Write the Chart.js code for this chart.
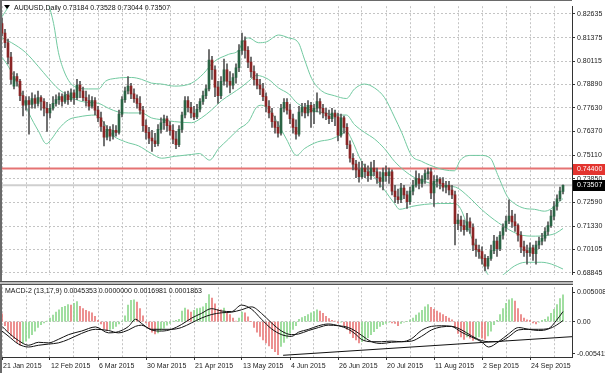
<!DOCTYPE html>
<html>
<head>
<meta charset="utf-8">
<script src="https://cdn.jsdelivr.net/npm/chart.js@4.4.0/dist/chart.umd.min.js"></script>
<style>
  html, body { margin: 0; padding: 0; background: #fff; }
  #wrap { position: relative; width: 605px; height: 373px; overflow: hidden; background: #fff; }
  #priceChart { position: absolute; left: 0; top: 0; }
  #macdChart { position: absolute; left: 0; top: 281px; }
</style>
</head>
<body>
<div id="wrap">
  <canvas id="priceChart" width="605" height="281"></canvas>
  <canvas id="macdChart" width="605" height="92"></canvas>
</div>
<script>
const dateLabels = ['21 Jan 2015', '12 Feb 2015', '6 Mar 2015', '30 Mar 2015', '21 Apr 2015', '13 May 2015',
  '4 Jun 2015', '26 Jun 2015', '20 Jul 2015', '11 Aug 2015', '2 Sep 2015', '24 Sep 2015'];

const opens = [
  .8212, .8161, .8110, .8033, .7879, .7930, .7905, .7828, .7777, .7802, .7782, .7812, .7787, .7818, .7797, .7761,
  .7736, .7761, .7787, .7807, .7823, .7797, .7833, .7807, .7843, .7818, .7884, .7853, .7818, .7802, .7772, .7802,
  .7751, .7710, .7664, .7607, .7649, .7613, .7643, .7633, .7730, .7807, .7853, .7879, .7838, .7812, .7787, .7751,
  .7669, .7633, .7602, .7587, .7572, .7649, .7684, .7705, .7669, .7643, .7597, .7567, .7649, .7725, .7802, .7766,
  .7736, .7715, .7756, .7797, .7828, .7864, .8018, .7966, .7874, .7828, .7905, .7966, .7905, .7884, .7925, .7977,
  .8069, .8120, .8069, .8007, .7956, .7915, .7884, .7864, .7823, .7772, .7736, .7690, .7659, .7628, .7761, .7792,
  .7751, .7705, .7659, .7623, .7741, .7766, .7736, .7777, .7741, .7761, .7797, .7761, .7736, .7720, .7705, .7736,
  .7715, .7618, .7710, .7659, .7567, .7495, .7464, .7433, .7397, .7443, .7423, .7402, .7443, .7423, .7392, .7372,
  .7418, .7402, .7423, .7320, .7290, .7274, .7336, .7300, .7264, .7320, .7351, .7387, .7361, .7382, .7413, .7423,
  .7310, .7372, .7382, .7361, .7341, .7351, .7326, .7300, .7146, .7166, .7136, .7115, .7156, .7126, .7033, .7008,
  .6998, .6962, .6920, .6962, .7003, .7054, .7013, .7085, .7126, .7161, .7187, .7156, .7136, .7085, .7023, .7003,
  .6992, .7018, .6987, .7033, .7054, .7069, .7105, .7136, .7187, .7238, .7279, .73184
];
const highs = [
  .8243, .8182, .8130, .8059, .7956, .7946, .7915, .7853, .7823, .7823, .7843, .7833, .7853, .7828, .7812, .7792,
  .7782, .7823, .7833, .7843, .7838, .7848, .7853, .7864, .7859, .7915, .7905, .7874, .7853, .7833, .7823, .7818,
  .7772, .7741, .7690, .7669, .7664, .7674, .7669, .7751, .7823, .7874, .7930, .7894, .7864, .7833, .7823, .7772,
  .7700, .7659, .7643, .7628, .7674, .7710, .7725, .7720, .7690, .7674, .7638, .7669, .7741, .7823, .7823, .7792,
  .7772, .7782, .7812, .7853, .7884, .8074, .8038, .7987, .7905, .7930, .8023, .7997, .7956, .7946, .7997, .8100,
  .8161, .8141, .8089, .8033, .7987, .7946, .7915, .7894, .7843, .7802, .7761, .7720, .7690, .7782, .7812, .7812,
  .7782, .7730, .7700, .7772, .7787, .7787, .7802, .7792, .7782, .7843, .7812, .7782, .7761, .7751, .7761, .7751,
  .7736, .7730, .7720, .7679, .7587, .7520, .7484, .7474, .7479, .7464, .7454, .7474, .7484, .7443, .7423, .7443,
  .7454, .7443, .7433, .7351, .7331, .7361, .7351, .7320, .7341, .7377, .7428, .7413, .7402, .7433, .7443, .7443,
  .7402, .7402, .7392, .7392, .7372, .7372, .7351, .7320, .7197, .7187, .7166, .7202, .7177, .7146, .7064, .7033,
  .7023, .6982, .6972, .7033, .7085, .7075, .7105, .7146, .7187, .7274, .7218, .7197, .7146, .7105, .7054, .7033,
  .7044, .7033, .7054, .7075, .7095, .7126, .7156, .7218, .7264, .7300, .7341, .73528
];
const lows = [
  .8146, .8084, .7997, .7890, .7864, .7879, .7802, .7720, .7751, .7623, .7761, .7761, .7772, .7751, .7720, .7638,
  .7710, .7751, .7772, .7782, .7772, .7787, .7782, .7797, .7782, .7807, .7818, .7802, .7772, .7751, .7761, .7725,
  .7690, .7638, .7561, .7592, .7587, .7597, .7613, .7623, .7715, .7792, .7838, .7812, .7792, .7761, .7730, .7638,
  .7597, .7572, .7531, .7556, .7561, .7628, .7649, .7638, .7618, .7572, .7546, .7556, .7633, .7710, .7741, .7710,
  .7700, .7705, .7741, .7782, .7812, .7853, .7915, .7823, .7787, .7812, .7884, .7874, .7843, .7864, .7894, .7956,
  .8048, .8028, .7977, .7925, .7884, .7864, .7833, .7802, .7741, .7710, .7659, .7628, .7607, .7618, .7741, .7730,
  .7679, .7628, .7597, .7613, .7720, .7710, .7720, .7659, .7679, .7741, .7730, .7710, .7700, .7679, .7690, .7669,
  .7587, .7607, .7628, .7546, .7474, .7433, .7392, .7367, .7387, .7392, .7372, .7382, .7402, .7361, .7341, .7326,
  .7372, .7361, .7300, .7259, .7254, .7259, .7279, .7228, .7249, .7300, .7341, .7331, .7341, .7361, .7382, .7279,
  .7238, .7341, .7331, .7320, .7310, .7300, .7279, .7033, .7115, .7105, .7085, .7105, .7095, .7003, .6972, .6962,
  .6931, .6895, .6905, .6951, .6987, .6972, .7003, .7064, .7105, .7146, .7126, .7105, .7054, .6992, .6972, .6931,
  .6972, .6951, .6931, .7013, .7033, .7054, .7085, .7126, .7166, .7218, .7269, .73044
];
const closes = [
  .8161, .8110, .8033, .7915, .7930, .7905, .7828, .7777, .7802, .7782, .7812, .7787, .7818, .7797, .7761, .7736,
  .7761, .7787, .7807, .7823, .7797, .7833, .7807, .7843, .7818, .7884, .7853, .7818, .7802, .7772, .7802, .7751,
  .7710, .7664, .7607, .7649, .7613, .7643, .7633, .7730, .7807, .7853, .7879, .7838, .7812, .7787, .7751, .7669,
  .7633, .7602, .7587, .7572, .7649, .7684, .7705, .7669, .7643, .7597, .7567, .7649, .7725, .7802, .7766, .7736,
  .7715, .7756, .7797, .7828, .7864, .8018, .7966, .7874, .7828, .7905, .7966, .7905, .7884, .7925, .7977, .8069,
  .8120, .8069, .8007, .7956, .7915, .7884, .7864, .7823, .7772, .7736, .7690, .7659, .7628, .7761, .7792, .7751,
  .7705, .7659, .7623, .7741, .7766, .7736, .7777, .7741, .7761, .7797, .7761, .7736, .7720, .7705, .7736, .7715,
  .7618, .7710, .7659, .7567, .7495, .7464, .7433, .7397, .7443, .7423, .7402, .7443, .7423, .7392, .7372, .7418,
  .7402, .7423, .7320, .7290, .7274, .7336, .7300, .7264, .7320, .7351, .7387, .7361, .7382, .7413, .7423, .7310,
  .7372, .7382, .7361, .7341, .7351, .7326, .7300, .7146, .7166, .7136, .7115, .7156, .7126, .7033, .7008, .6998,
  .6962, .6920, .6962, .7003, .7054, .7013, .7085, .7126, .7161, .7187, .7156, .7136, .7085, .7023, .7003, .6992,
  .7018, .6987, .7033, .7054, .7069, .7105, .7136, .7187, .7238, .7279, .7320, .73507
];

// Bandas de Bollinger: [barra, preço]
const bbUpper = [[0,0.8248],[2.2,0.8305],[5.5,0.8418],[10.5,0.8459],[13.8,0.8377],[15.5,0.8315],[17.2,0.8212],[18.8,0.8059],
  [20.5,0.7966],[22.8,0.7895],[25.5,0.7869],[28.8,0.7864],[32.2,0.7864],[34.5,0.7905],[37.8,0.7920],[43.2,0.7925],[46.5,0.7915],
  [49.8,0.7895],[53.2,0.7890],[57.5,0.7879],[63.2,0.7895],[67.2,0.7946],[70.5,0.8007],[75.5,0.8048],[78.8,0.8069],[80.5,0.8120],
  [82.2,0.8136],[85.5,0.8110],[88.2,0.8115],[92.2,0.8151],[95.5,0.8136],[98.8,0.8110],[100.8,0.8023],[103.2,0.7920],[106.5,0.7854],
  [110.8,0.7828],[114.8,0.7813],[117.5,0.7864],[120.8,0.7890],[124.2,0.7869],[127.5,0.7818],[130.8,0.7715],[133.2,0.7633],
  [136.5,0.7510],[139.8,0.7479],[142.5,0.7459],[147.5,0.7433],[150.8,0.7428],[152.8,0.7485],[156.2,0.7510],[159.5,0.7510],
  [162.8,0.7495],[165.2,0.7408],[168.5,0.7290],[170.8,0.7254],[174.2,0.7228],[177.5,0.7223],[180.8,0.7213],[182.8,0.7223],
  [184.8,0.7249],[187,0.7280]];
const bbMiddle = [[0,0.8136],[3.2,0.8110],[7.8,0.8059],[12.2,0.7982],[15.5,0.7920],[18.8,0.7864],[22.2,0.7828],[25.5,0.7802],
  [28.8,0.7792],[32.2,0.7787],[35.5,0.7761],[38.8,0.7741],[42.2,0.7736],[46.5,0.7736],[49.8,0.7710],[53.2,0.7700],[57.5,0.7690],
  [63.2,0.7684],[66.5,0.7710],[69.8,0.7751],[73.2,0.7802],[76.5,0.7838],[79.8,0.7874],[82.2,0.7905],[84.8,0.7936],[88.8,0.7915],
  [92.2,0.7869],[95.5,0.7838],[98.5,0.7787],[103.2,0.7751],[107.5,0.7736],[110.8,0.7725],[114.8,0.7725],[117.5,0.7674],
  [120.8,0.7633],[124.2,0.7597],[127.5,0.7546],[130.8,0.7479],[134.2,0.7428],[137.5,0.7392],[140.8,0.7372],[145.5,0.7351],
  [151.2,0.7341],[155.5,0.7290],[159.8,0.7223],[165.5,0.7151],[172.2,0.7090],[177.8,0.7080],[182.2,0.7085],[184.5,0.7095],
  [187,0.7121]];
const bbLower = [[0,0.8033],[2.2,0.7982],[5.5,0.7879],[8.8,0.7741],[12.2,0.7638],[14.8,0.7572],[16.5,0.7597],[18.8,0.7649],
  [22.2,0.7700],[25.5,0.7715],[31.2,0.7725],[33.2,0.7700],[36.5,0.7623],[41.2,0.7582],[45.5,0.7561],[49.8,0.7520],[53.2,0.7495],
  [57.5,0.7505],[63.2,0.7515],[65.8,0.7520],[69.2,0.7485],[72.2,0.7546],[75.5,0.7597],[78.8,0.7649],[82.2,0.7690],[84.8,0.7766],
  [86.5,0.7777],[89.2,0.7751],[92.2,0.7674],[94.8,0.7597],[98.2,0.7510],[100.8,0.7546],[105.2,0.7582],[109.8,0.7597],
  [113.2,0.7623],[114.8,0.7638],[116.5,0.7597],[119.8,0.7479],[124.2,0.7392],[127.5,0.7326],[130.8,0.7254],[132.5,0.7223],
  [136.5,0.7238],[140.8,0.7249],[146.2,0.7254],[150.8,0.7254],[152.8,0.7228],[156.2,0.7085],[159.5,0.6967],[161.8,0.6880],
  [164.5,0.6849],[167.5,0.6880],[170.8,0.6921],[174.5,0.6941],[179.8,0.6941],[183.2,0.6931],[187,0.6905]];

const priceTicks = [0.82635, 0.81375, 0.80115, 0.78890, 0.77630, 0.76370, 0.75110, 0.73850, 0.72590, 0.71330, 0.70105, 0.68845];
const levelPrice = 0.74400;

// MACD-2 (13,17,9)
const macdHist = [
  .0013, -.0007, -.0016, -.0024, -.0029, -.0035, -.0040, -.0037, -.0033, -.0028, -.0022, -.0016, -.0010, -.0005, -.0002, .0001,
  .0006, .0011, .0016, .0020, .0024, .0026, .0029, .0028, .0031, .0034, .0026, .0022, .0019, .0017, .0015, .0009,
  .0002, -.0004, -.0012, -.0015, -.0013, -.0012, -.0008, -.0004, .0001, .0010, .0028, .0036, .0037, .0033, .0022, .0010,
  -.0002, -.0010, -.0018, -.0021, -.0019, -.0015, -.0011, -.0006, -.0003, .0001, .0002, .0004, .0018, .0023, .0020, .0016,
  .0019, .0022, .0023, .0025, .0031, .0046, .0040, .0030, .0021, .0020, .0023, .0016, .0012, .0006, .0001, .0006,
  .0016, .0015, .0008, .0000, -.0010, -.0018, -.0025, -.0031, -.0036, -.0041, -.0046, -.0051, -.0056, -.0042, -.0035, -.0028,
  -.0020, -.0013, -.0007, .0004, .0007, .0009, .0012, .0015, .0017, .0020, .0018, .0014, .0009, .0005, .0002, .0001,
  -.0002, -.0001, -.0007, -.0013, -.0020, -.0027, -.0031, -.0036, -.0034, -.0031, -.0027, -.0022, -.0017, -.0012, -.0008, -.0005,
  -.0003, -.0001, -.0002, -.0003, -.0007, -.0003, -.0001, .0000, .0003, .0006, .0011, .0015, .0019, .0025, .0029, .0024,
  .0021, .0018, .0015, .0012, .0009, .0006, .0003, -.0010, -.0020, -.0026, -.0030, -.0026, -.0028, -.0032, -.0030, -.0026,
  -.0028, -.0030, -.0024, -.0016, -.0005, .0002, .0012, .0022, .0031, .0037, .0039, .0035, .0022, .0012, .0006, .0003,
  .0002, -.0002, -.0004, -.0001, .0002, .0004, .0008, .0014, .0021, .0029, .0039, .0045353
];
const macdFast = [[0,-0.0008],[2,-0.0018],[5.5,-0.0032],[8.8,-0.0040],[12.2,-0.0035],[15.5,-0.0036],[18.8,-0.0030],[22.2,-0.0022],
  [26.5,-0.0016],[31.2,-0.0009],[35.5,-0.0019],[38.8,-0.0017],[42.2,-0.0008],[44.5,0.0004],[46.5,-0.0003],[49.8,-0.0014],
  [53.2,-0.0016],[56.5,-0.0013],[59.8,-0.0005],[63.2,0.0006],[66.5,0.0014],[69.8,0.0022],[73.2,0.0018],[76.5,0.0017],
  [79.8,0.0028],[83.2,0.0021],[86.5,0.0004],[89.8,-0.0012],[93.2,-0.0022],[96.5,-0.0025],[98.8,-0.0018],[102.2,-0.0013],
  [105.5,-0.0007],[108.8,-0.0004],[112.2,-0.0007],[115.5,-0.0013],[117.8,-0.0021],[119.8,-0.0030],[123.2,-0.0034],
  [126.5,-0.0034],[129.8,-0.0033],[133.2,-0.0034],[136.5,-0.0029],[139.8,-0.0015],[143.2,-0.0008],[146.5,-0.0007],
  [149.8,-0.0008],[153.2,-0.0018],[156.5,-0.0026],[159.8,-0.0034],[162.2,-0.0043],[165.5,-0.0034],[168.8,-0.0021],
  [172.2,-0.0010],[175.5,-0.0013],[178.8,-0.0015],[182.2,-0.0012],[184.8,0.0002],[187,0.0016981]];
const macdSlow = [[0,-0.0016],[2,-0.0024],[5.5,-0.0038],[8.8,-0.0043],[12.2,-0.0040],[15.5,-0.0038],[18.8,-0.0036],[22.2,-0.0030],
  [26.5,-0.0020],[31.2,-0.0013],[35.5,-0.0015],[38.8,-0.0019],[42.2,-0.0014],[44.5,-0.0008],[46.5,-0.0006],[49.8,-0.0013],
  [53.2,-0.0013],[56.5,-0.0013],[59.8,-0.0010],[63.2,-0.0002],[66.5,0.0006],[69.8,0.0012],[73.2,0.0015],[76.5,0.0016],
  [79.8,0.0020],[83.2,0.0025],[86.5,0.0014],[89.8,-0.0002],[93.2,-0.0016],[96.5,-0.0022],[98.8,-0.0021],[102.2,-0.0015],
  [105.5,-0.0010],[108.8,-0.0006],[112.2,-0.0007],[115.5,-0.0010],[117.8,-0.0016],[119.8,-0.0023],[123.2,-0.0034],
  [126.5,-0.0037],[129.8,-0.0035],[133.2,-0.0034],[136.5,-0.0033],[139.8,-0.0025],[143.2,-0.0014],[146.5,-0.0009],
  [149.8,-0.0008],[153.2,-0.0014],[156.5,-0.0024],[159.8,-0.0032],[162.2,-0.0034],[165.5,-0.0034],[168.8,-0.0026],
  [172.2,-0.0014],[175.5,-0.0013],[178.8,-0.0013],[182.2,-0.0012],[184.8,-0.0006],[187,0.0001863]];
const macdTrend = [[93.7,-0.0057],[190,-0.00255]];
const macdTicks = [-0.005411, 0, 0.005008];

// --- layout / estilos ---
const FONT = "'Liberation Sans', Arial, sans-serif";
const GRID = '#c4c4c4';
const BULL = '#2b6445', BEAR = '#8a2525', WICK = '#555555';
const BAND = '#72c9a0';
const X_MIN = -1 / 3, X_MAX = 190;
const Y_MAX = 0.83045, Y_MIN = 0.68743;
const M_MAX = 0.00583, M_MIN = -0.00599;

const gridIdx = [];
for (let k = 0; k <= 184; k += 8) gridIdx.push(k);

const idx = closes.map((_, i) => i);
const lastClose = closes[closes.length - 1];
const pairs = arr => arr.map(p => ({ x: p[0], y: p[1] }));

// --- gráfico de preço ---
const pricePlugin = {
  id: 'priceDecor',
  afterDraw(chart) {
    const ctx = chart.ctx;
    const y = chart.scales.y;
    ctx.save();
    // bordas da janela
    ctx.fillStyle = '#6a6a6a';
    ctx.fillRect(0, 0, 2, chart.height);
    ctx.fillRect(0, 0, 572, 1);
    // título
    ctx.fillStyle = '#000';
    ctx.beginPath();
    ctx.moveTo(4, 5); ctx.lineTo(10, 5); ctx.lineTo(7, 9); ctx.closePath(); ctx.fill();
    ctx.font = '7px ' + FONT;
    ctx.textBaseline = 'middle';
    ctx.fillStyle = '#111';
    ctx.fillText('AUDUSD,Daily 0.73184 0.73528 0.73044 0.73507', 14, 8);
    // caixas de preço
    const box = (p, bg) => {
      const py = Math.round(y.getPixelForValue(p));
      ctx.fillStyle = bg;
      ctx.fillRect(573, py - 5, 32, 11);
      ctx.fillStyle = '#fff';
      ctx.fillText(p.toFixed(5), 577, py + 0.5);
    };
    box(levelPrice, '#e3342f');
    box(lastClose, '#000');
    ctx.restore();
  }
};

new Chart(document.getElementById('priceChart'), {
  type: 'bar',
  data: {
    datasets: [
      { type: 'line', data: [{ x: X_MIN, y: levelPrice }, { x: X_MAX, y: levelPrice }], borderColor: '#e57373',
        borderWidth: 2, pointRadius: 0, order: 10 },
      { type: 'line', data: [{ x: X_MIN, y: lastClose }, { x: X_MAX, y: lastClose }], borderColor: '#cfcfcf',
        borderWidth: 2, pointRadius: 0, order: 9 },
      { type: 'line', data: pairs(bbUpper), borderColor: BAND, borderWidth: 1, pointRadius: 0, cubicInterpolationMode: 'monotone', order: 5 },
      { type: 'line', data: pairs(bbMiddle), borderColor: BAND, borderWidth: 1, pointRadius: 0, cubicInterpolationMode: 'monotone', order: 5 },
      { type: 'line', data: pairs(bbLower), borderColor: BAND, borderWidth: 1, pointRadius: 0, cubicInterpolationMode: 'monotone', order: 5 },
      { type: 'bar', data: idx.map(i => ({ x: i, y: [lows[i], highs[i]] })), backgroundColor: WICK,
        barThickness: 1, grouped: false, order: 2 },
      { type: 'bar', data: idx.map(i => ({ x: i, y: [opens[i], closes[i]] })),
        backgroundColor: idx.map(i => closes[i] >= opens[i] ? BULL : BEAR),
        barThickness: 2, minBarLength: 1, grouped: false, order: 1 }
    ]
  },
  options: {
    responsive: false,
    animation: false,
    devicePixelRatio: 1,
    layout: { padding: { left: 1, top: 2, right: 0, bottom: 0 } },
    plugins: { legend: { display: false }, tooltip: { enabled: false } },
    scales: {
      x: {
        type: 'linear', min: X_MIN, max: X_MAX, offset: false,
        afterBuildTicks: s => { s.ticks = gridIdx.map(v => ({ value: v })); },
        grid: { color: GRID, drawTicks: false, offset: false, borderDash: [2, 2] },
        border: { display: false, dash: [2, 2] },
        ticks: { display: false },
        afterFit: s => { s.height = 0; }
      },
      y: {
        position: 'right', min: Y_MIN, max: Y_MAX,
        afterBuildTicks: s => { s.ticks = priceTicks.map(v => ({ value: v })); },
        grid: { color: GRID, tickLength: 3, tickColor: '#333', tickBorderDash: [], borderDash: [2, 2] },
        border: { display: true, color: '#333', dash: [2, 2] },
        ticks: { font: { family: FONT, size: 7 }, color: '#222', padding: 2, callback: v => v.toFixed(5) },
        afterFit: s => { s.width = 33; }
      }
    }
  },
  plugins: [pricePlugin]
});

// --- painel MACD ---
const macdPlugin = {
  id: 'macdDecor',
  afterDraw(chart) {
    const ctx = chart.ctx;
    const xs = chart.scales.x;
    ctx.save();
    ctx.fillStyle = '#6a6a6a';
    ctx.fillRect(0, 0, 2, chart.height);
    ctx.fillStyle = '#555';
    ctx.fillRect(0, 0, 573, 1);
    ctx.fillStyle = '#bdbdbd';
    ctx.fillRect(0, 1, 573, 2);
    ctx.fillStyle = '#555';
    ctx.fillRect(0, 3, 573, 1);
    ctx.font = '7px ' + FONT;
    ctx.textBaseline = 'middle';
    ctx.fillStyle = '#111';
    ctx.fillText('MACD-2 (13,17,9) 0.0045353 0.0000000 0.0016981 0.0001863', 5, 10);
    // datas no eixo (começam na própria marca, como no MT4)
    ctx.fillStyle = '#222';
    ctx.textAlign = 'left';
    dateLabels.forEach((d, k) => {
      ctx.fillText(d, Math.round(xs.getPixelForValue(k * 16)) + 1, xs.bottom - 7);
    });
    ctx.restore();
  }
};

new Chart(document.getElementById('macdChart'), {
  type: 'bar',
  data: {
    datasets: [
      { type: 'bar', data: idx.map(i => ({ x: i, y: macdHist[i] })),
        backgroundColor: idx.map(i => (i > 0 && macdHist[i] > macdHist[i - 1]) ? '#8ed88e' : '#e87a7a'),
        barThickness: 1, grouped: false, order: 3 },
      { type: 'line', data: pairs(macdFast), borderColor: '#111', borderWidth: 1, pointRadius: 0, cubicInterpolationMode: 'monotone', order: 1 },
      { type: 'line', data: pairs(macdSlow), borderColor: '#111', borderWidth: 1, pointRadius: 0, cubicInterpolationMode: 'monotone', order: 1 },
      { type: 'line', data: pairs(macdTrend), borderColor: '#111', borderWidth: 1, pointRadius: 0, order: 1 }
    ]
  },
  options: {
    responsive: false,
    animation: false,
    devicePixelRatio: 1,
    layout: { padding: { left: 1, top: 4, right: 0, bottom: 0 } },
    plugins: { legend: { display: false }, tooltip: { enabled: false } },
    scales: {
      x: {
        type: 'linear', min: X_MIN, max: X_MAX, offset: false,
        afterBuildTicks: s => { s.ticks = gridIdx.map(v => ({ value: v })); },
        grid: { color: GRID, tickLength: 3, offset: false, borderDash: [2, 2], tickBorderDash: [],
          tickColor: c => (c.tick && c.tick.value % 16 === 0) ? '#333' : 'rgba(0,0,0,0)' },
        border: { display: true, color: '#333', dash: [2, 2] },
        ticks: { display: false },
        afterFit: s => { s.height = 16; }
      },
      y: {
        position: 'right', min: M_MIN, max: M_MAX,
        afterBuildTicks: s => { s.ticks = macdTicks.map(v => ({ value: v })); },
        grid: { color: c => (c.tick && c.tick.value === 0) ? GRID : 'rgba(0,0,0,0)', tickLength: 3,
          tickColor: '#333', tickBorderDash: [], borderDash: [2, 2] },
        border: { display: true, color: '#333', dash: [2, 2] },
        ticks: { font: { family: FONT, size: 7 }, color: '#222', padding: 2,
          callback: v => v === 0 ? '0.00' : v.toFixed(6) },
        afterFit: s => { s.width = 33; }
      }
    }
  },
  plugins: [macdPlugin]
});
</script>
</body>
</html>
